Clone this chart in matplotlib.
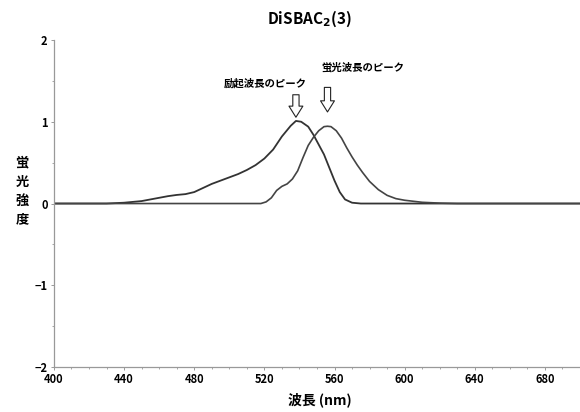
import matplotlib
matplotlib.use('Agg')
import matplotlib.pyplot as plt
from matplotlib.ticker import MultipleLocator

plt.rcParams['font.family'] = ['Noto Sans CJK JP', 'DejaVu Sans']
plt.rcParams['font.weight'] = 'bold'

# excitation spectrum (nm, relative intensity)
ex_wl = [400, 430, 440, 450, 460, 465, 470, 475, 480, 485, 490, 495, 500, 505,
         510, 515, 520, 525, 530, 535, 538, 541, 545, 548, 551, 554, 557, 560,
         563, 566, 570, 575, 700]
ex_val = [0, 0, 0.01, 0.03, 0.07, 0.09, 0.105, 0.115, 0.14, 0.19, 0.24, 0.28, 0.32, 0.36,
          0.41, 0.47, 0.55, 0.66, 0.82, 0.95, 1.01, 1.0, 0.94, 0.84, 0.72, 0.6, 0.44, 0.28,
          0.14, 0.05, 0.01, 0, 0]

# emission spectrum
em_wl = [400, 518, 521, 524, 527, 530, 533, 536, 539, 542, 545, 548, 551, 554, 556,
         558, 561, 564, 567, 570, 573, 576, 580, 585, 590, 595, 600, 610, 620, 630, 700]
em_val = [0, 0, 0.02, 0.07, 0.16, 0.21, 0.24, 0.3, 0.4, 0.56, 0.71, 0.81, 0.89, 0.94, 0.945,
          0.94, 0.89, 0.8, 0.68, 0.57, 0.47, 0.38, 0.27, 0.17, 0.1, 0.06, 0.04, 0.015, 0.005, 0, 0]

xticks = [400, 440, 480, 520, 560, 600, 640, 680]
yticks = [-2, -1, 0, 1, 2]

ex_peak = 538
em_peak = 556

fig = plt.figure(figsize=(5.8, 4.12), dpi=100)
ax = fig.add_axes([0.093, 0.109, 0.907, 0.794])

ax.plot(ex_wl, ex_val, color='#333333', lw=1.3)
ax.plot(em_wl, em_val, color='#444444', lw=1.2)

ax.set_xlim(400, 700)
ax.set_ylim(-2, 2)
ax.set_xticks(xticks)
ax.set_yticks(yticks)
ax.set_yticklabels(['\u22122', '\u22121', '0', '1', '2'])
ax.xaxis.set_minor_locator(MultipleLocator(10))
ax.yaxis.set_minor_locator(MultipleLocator(0.5))
ax.tick_params(axis='both', which='major', length=2.5, width=0.7, color='#999999',
               labelsize=8, pad=2)
ax.tick_params(axis='both', which='minor', length=1.5, width=0.6, color='#999999')

for s in ['top', 'right']:
    ax.spines[s].set_visible(False)
for s in ['left', 'bottom']:
    ax.spines[s].set_color('#999999')
    ax.spines[s].set_linewidth(0.9)

arrow = dict(arrowstyle='simple,head_length=0.8,head_width=1.0,tail_width=0.45',
             fc='white', ec='#222222', lw=0.8, shrinkA=0, shrinkB=0, mutation_scale=10)
ax.annotate('', xy=(ex_peak, 1.055), xytext=(ex_peak, 1.33), arrowprops=arrow)
ax.annotate('', xy=(em_peak, 1.12), xytext=(em_peak, 1.42), arrowprops=arrow)

ax.text(520.5, 1.47, '励起波長のピーク', ha='center', va='center', fontsize=7.5, fontweight='bold')
ax.text(576, 1.67, '蛍光波長のピーク', ha='center', va='center', fontsize=7.5, fontweight='bold')

fig.text(0.533, 0.955, r'DiSBAC$_\mathbf{2}$(3)', ha='center', va='center',
         fontsize=11, fontweight='bold')
fig.text(0.552, 0.03, '波長 (nm)', ha='center', va='center', fontsize=10, fontweight='bold')
fig.text(0.038, 0.536, '蛍\n光\n強\n度', ha='center', va='center', fontsize=9.5,
         fontweight='bold', linespacing=1.45)

fig.savefig('out.png', dpi=100)
